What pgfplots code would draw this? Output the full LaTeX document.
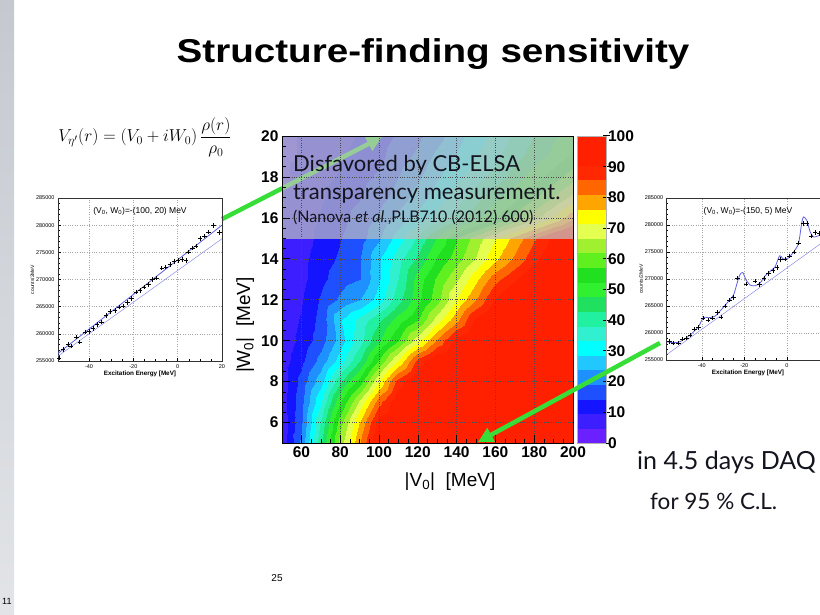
\documentclass[border=0pt]{standalone}
\usepackage{fontspec}
\setmainfont{Liberation Sans}
\newfontfamily\gill{Lato}
\usepackage{graphicx}
\usepackage{pgfplots}
\pgfplotsset{compat=1.18}
\usetikzlibrary{arrows.meta}

\definecolor{arrowgreen}{RGB}{55,222,55}
\definecolor{arrowpale}{RGB}{150,205,150}
\definecolor{fithi}{RGB}{95,95,225}
\definecolor{fitlo}{RGB}{140,140,235}
\definecolor{slidetext}{RGB}{20,20,30}

\newcommand{\ticklabelfont}{\fontsize{15.5}{16}\selectfont\bfseries}

\pgfplotsset{
  /pgf/number format/assume math mode=true,
  % ROOT-like palette, 20 bands of 5 %
  colormap={rootpal}{
    rgb255=(106,32,255) rgb255=(60,30,255) rgb255=(20,20,255) rgb255=(30,80,255)
    rgb255=(30,144,255) rgb255=(32,200,255) rgb255=(0,255,255) rgb255=(48,240,208)
    rgb255=(32,240,160) rgb255=(32,224,96) rgb255=(48,240,48) rgb255=(32,224,32)
    rgb255=(96,240,32) rgb255=(160,240,48) rgb255=(229,255,80) rgb255=(255,255,0)
    rgb255=(255,165,0) rgb255=(255,102,0) rgb255=(255,40,0) rgb255=(255,32,0)
    rgb255=(255,32,0)},
  % the same palette seen through the grey veil of the excluded band
  colormap={rootveil}{
    rgb255=(160,150,210) rgb255=(150,146,210) rgb255=(142,142,210) rgb255=(144,158,210)
    rgb255=(144,176,210) rgb255=(145,192,210) rgb255=(138,206,210) rgb255=(150,204,198)
    rgb255=(146,204,184) rgb255=(146,200,166) rgb255=(150,204,154) rgb255=(146,200,150)
    rgb255=(164,204,150) rgb255=(184,204,154) rgb255=(202,208,162) rgb255=(210,210,140)
    rgb255=(210,186,140) rgb255=(210,168,140) rgb255=(210,150,140) rgb255=(210,148,140)
    rgb255=(210,148,140)},
  spectrum/.style={
    scale only axis, anchor=south west,
    ymin=255000, ymax=285000,
    ytick={255000,260000,...,285000},
    scaled y ticks=false,
    yticklabel style={/pgf/number format/fixed, /pgf/number format/1000 sep={}},
    ticklabel style={font=\fontsize{5.5}{6}\selectfont},
    grid=major, major grid style={gray!70, dotted, line width=0.4pt},
    axis line style={line width=0.5pt, black!80},
    tick style={line width=0.4pt, black},
    major tick length=3pt, minor tick length=1.5pt,
    minor x tick num=3, minor y tick num=4,
    tick pos=left,
    xlabel style={font=\fontsize{6.3}{7}\selectfont\bfseries, yshift=4pt},
    ylabel style={font=\fontsize{5}{6}\selectfont, yshift=-5pt},
  },
}

\begin{document}
\begin{tikzpicture}[x=1pt,y=1pt]
\useasboundingbox (0,0) rectangle (820,614);
\clip (0,0) rectangle (820,614);
\fill[white] (0,0) rectangle (820,614);
\shade[top color={rgb,255:red,196;green,201;blue,208}, bottom color={rgb,255:red,226;green,228;blue,231}] (0,0) rectangle (14,614);

% sensitivity map over (|V0|, |W0|)
\begin{axis}[
  at={(282pt,171pt)}, anchor=south west,
  scale only axis, width=291pt, height=307pt,
  xmin=50, xmax=200, ymin=5, ymax=20,
  xtick={60,80,...,200}, ytick={6,8,...,20},
  minor x tick num=3, minor y tick num=3,
  tick pos=left, tick align=inside,
  major tick length=8pt, minor tick length=4pt,
  tick style={black, line width=0.6pt},
  grid=major, major grid style={black!70, dotted, line width=0.5pt},
  axis on top, clip=false,
  axis line style={line width=0.6pt},
  colormap name=rootpal, colormap access=piecewise constant,
  point meta min=0, point meta max=100,
  ticklabel style={font=\ticklabelfont},
  colorbar,
  colorbar style={
    at={(parent axis.north east)}, anchor=north west, xshift=-4.5pt,
    scale only axis, width=29pt, height=307pt,
    ytick={0,10,...,100}, tick pos=right,
    yticklabel style={font=\ticklabelfont, xshift=-5pt},
    major tick length=7pt, tick align=center,
    ytick style={black, line width=1pt},
    axis line style={draw=gray!60},
  },
]
% allowed region, |W0| <= 15 MeV
\addplot[surf, shader=interp, point meta=explicit, mesh/cols=16] coordinates {
(50,5)[6] (60,5)[20] (70,5)[42] (80,5)[64] (90,5)[81] (100,5)[97] (110,5)[99] (120,5)[99] (130,5)[99] (140,5)[99] (150,5)[99] (160,5)[99] (170,5)[99] (180,5)[99] (190,5)[99] (200,5)[99]
(50,6)[6] (60,6)[18] (70,6)[39] (80,6)[60] (90,6)[77] (100,6)[93] (110,6)[98] (120,6)[99] (130,6)[99] (140,6)[99] (150,6)[99] (160,6)[99] (170,6)[99] (180,6)[99] (190,6)[99] (200,6)[99]
(50,7)[7] (60,7)[17] (70,7)[33] (80,7)[52] (90,7)[68] (100,7)[84] (110,7)[95] (120,7)[99] (130,7)[99] (140,7)[99] (150,7)[99] (160,7)[99] (170,7)[99] (180,7)[99] (190,7)[99] (200,7)[99]
(50,8)[7] (60,8)[16] (70,8)[27] (80,8)[42] (90,8)[55] (100,8)[72] (110,8)[88] (120,8)[97] (130,8)[99] (140,8)[99] (150,8)[99] (160,8)[99] (170,8)[99] (180,8)[99] (190,8)[99] (200,8)[99]
(50,9)[7] (60,9)[13] (70,9)[21] (80,9)[31] (90,9)[43] (100,9)[58] (110,9)[72] (120,9)[88] (130,9)[96] (140,9)[99] (150,9)[99] (160,9)[99] (170,9)[99] (180,9)[99] (190,9)[99] (200,9)[99]
(50,10)[6] (60,10)[11] (70,10)[17] (80,10)[26] (90,10)[36] (100,10)[47] (110,10)[57] (120,10)[70] (130,10)[82] (140,10)[93] (150,10)[98] (160,10)[99] (170,10)[99] (180,10)[99] (190,10)[99] (200,10)[99]
(50,11)[6] (60,11)[10] (70,11)[16] (80,11)[28] (90,11)[35] (100,11)[42] (110,11)[50] (120,11)[57] (130,11)[69] (140,11)[80] (150,11)[92] (160,11)[98] (170,11)[99] (180,11)[99] (190,11)[99] (200,11)[99]
(50,12)[5] (60,12)[9] (70,12)[15] (80,12)[20] (90,12)[24] (100,12)[31] (110,12)[41] (120,12)[51] (130,12)[60] (140,12)[72] (150,12)[81] (160,12)[91] (170,12)[97] (180,12)[99] (190,12)[99] (200,12)[99]
(50,13)[5] (60,13)[8] (70,13)[13] (80,13)[17] (90,13)[19] (100,13)[28] (110,13)[38] (120,13)[50] (130,13)[58] (140,13)[66] (150,13)[75] (160,13)[84] (170,13)[90] (180,13)[96] (190,13)[99] (200,13)[99]
(50,14)[5] (60,14)[8] (70,14)[12] (80,14)[15] (90,14)[19] (100,14)[28] (110,14)[36] (120,14)[44] (130,14)[53] (140,14)[60] (150,14)[67] (160,14)[75] (170,14)[82] (180,14)[89] (190,14)[95] (200,14)[99]
(50,15)[5] (60,15)[7] (70,15)[11] (80,15)[14] (90,15)[17] (100,15)[23] (110,15)[31] (120,15)[39] (130,15)[48] (140,15)[57] (150,15)[64] (160,15)[71] (170,15)[78] (180,15)[85] (190,15)[92] (200,15)[97]
};
% band disfavored by the transparency measurement, |W0| >= 15 MeV
\addplot[surf, shader=interp, point meta=explicit, mesh/cols=16, colormap name=rootveil] coordinates {
(50,15)[5] (60,15)[7] (70,15)[11] (80,15)[14] (90,15)[17] (100,15)[23] (110,15)[31] (120,15)[39] (130,15)[48] (140,15)[57] (150,15)[64] (160,15)[71] (170,15)[78] (180,15)[85] (190,15)[92] (200,15)[97]
(50,16)[5] (60,16)[7] (70,16)[10] (80,16)[13] (90,16)[16] (100,16)[20] (110,16)[25] (120,16)[30] (130,16)[35] (140,16)[40] (150,16)[46] (160,16)[52] (170,16)[58] (180,16)[65] (190,16)[72] (200,16)[80]
(50,17)[5] (60,17)[6] (70,17)[9] (80,17)[12] (90,17)[14] (100,17)[17] (110,17)[21] (120,17)[26] (130,17)[31] (140,17)[36] (150,17)[41] (160,17)[46] (170,17)[51] (180,17)[56] (190,17)[62] (200,17)[68]
(50,18)[4] (60,18)[6] (70,18)[8] (80,18)[10] (90,18)[13] (100,18)[15] (110,18)[19] (120,18)[23] (130,18)[28] (140,18)[32] (150,18)[36] (160,18)[40] (170,18)[45] (180,18)[50] (190,18)[55] (200,18)[60]
(50,19)[4] (60,19)[5] (70,19)[7] (80,19)[9] (90,19)[11] (100,19)[13] (110,19)[17] (120,19)[20] (130,19)[25] (140,19)[29] (150,19)[33] (160,19)[37] (170,19)[41] (180,19)[45] (190,19)[49] (200,19)[53]
(50,20)[4] (60,20)[5] (70,20)[6] (80,20)[8] (90,20)[10] (100,20)[12] (110,20)[15] (120,20)[18] (130,20)[22] (140,20)[27] (150,20)[31] (160,20)[35] (170,20)[39] (180,20)[43] (190,20)[47] (200,20)[51]
};
% pointer from the (100, 20) MeV spectrum: full colour outside the map, veiled inside the band
\addplot[arrowgreen, line width=4.5pt] coordinates {(19.1,15.94) (50,17.44)};
\addplot[arrowpale, line width=4.5pt, -{Triangle[length=15pt,width=15pt]}] coordinates {(50,17.44) (101.5,19.95)};
\end{axis}

% axis titles of the map
\node[anchor=base, font=\fontsize{19}{21}\selectfont] at (450,128) {|V\textsubscript{0}|\ \ [MeV]};
\node[anchor=base, rotate=90, font=\fontsize{19}{21}\selectfont] at (250,289) {|W\textsubscript{0}|\ \ [MeV]};

% spectrum for (V0, W0) = -(100, 20) MeV
\begin{axis}[spectrum, at={(58pt,253pt)}, width=164pt, height=163pt,
  xmin=-54, xmax=20, xtick={-40,-20,0,20},
  xlabel={Excitation Energy [MeV]}, ylabel={counts/2MeV}]
\addplot[color=fitlo, line width=0.5pt] coordinates {(-54,255900) (20,277500)};
\addplot[color=fithi, line width=0.8pt] coordinates {(-54,256400) (20,280000)};
\addplot[only marks, mark=+, mark size=2.2pt, black, mark options={line width=0.45pt}] coordinates {
(-53.5,255600) (-51.7,257100) (-49.5,258000) (-48.0,257760) (-45.7,259420) (-44.2,258500)
(-41.9,260340) (-40.1,260460) (-38.1,260950) (-36.3,261690) (-34.4,262180) (-32.4,263400)
(-30.6,264140) (-28.3,264330) (-26.4,264940) (-24.6,265120) (-22.6,265740) (-20.8,266470)
(-18.8,267700) (-17.0,268000) (-15.2,268620) (-13.2,269050) (-11.4,270030) (-9.5,270280)
(-7.2,272120) (-5.4,272300) (-3.4,272730) (-1.6,273340) (0.1,273530) (1.9,273710)
(3.7,273500) (4.9,275060) (6.7,275800) (8.4,276170) (10.2,277520) (12.1,278010)
(13.9,278740) (16.2,279970) (18.8,278620)};
\node[font=\fontsize{8.5}{10}\selectfont] at (axis description cs:0.5,0.92) {(V\textsubscript{0}, W\textsubscript{0})=-(100, 20) MeV};
\end{axis}

% spectrum for (V0, W0) = -(150, 5) MeV
\begin{axis}[spectrum, at={(666.7pt,254pt)}, width=162.6pt, height=162pt,
  xmin=-56.5, xmax=20, xtick={-40,-20,0},
  xlabel={Excitation Energy [MeV]}, ylabel={counts/2MeV}]
\addplot[color=fitlo, line width=0.5pt] coordinates {(-56.5,256000) (20,277700)};
\addplot[color=fithi, line width=0.8pt, smooth, tension=0.4] coordinates {
(-56.5,258390) (-53.4,258200) (-50.2,258390) (-45.5,259620) (-41.6,261160) (-39.2,262890)
(-36.9,262820) (-33.7,263130) (-31.4,264060) (-28.3,265470) (-25.1,267010) (-23.2,269480)
(-22.0,270830) (-20.7,271200) (-19.1,269790) (-17.2,268860) (-14.9,268740) (-12.5,269290)
(-10.2,270590) (-7.8,271450) (-5.5,272250) (-3.4,274280) (-1.5,273670) (0.8,273910)
(3.2,275020) (5.5,276560) (7.1,280560) (7.9,281490) (9.4,280870) (11.0,278720)
(12.6,277790) (15.7,278100) (20,278700)};
\addplot[only marks, mark=+, mark size=2.2pt, black, mark options={line width=0.45pt}] coordinates {
(-55.2,258400) (-53.4,258100) (-51.0,258100) (-49.0,258900) (-47.1,259100) (-45.5,259600)
(-43.5,260700) (-41.6,261000) (-39.5,262800) (-37.2,262400) (-35.0,262800) (-32.6,263800)
(-30.9,263000) (-29.0,265000) (-27.0,266100) (-25.1,266600) (-23.2,270200) (-19.1,269100)
(-14.9,269600) (-12.9,269000) (-10.7,270100) (-8.6,271000) (-6.6,271600) (-4.7,272100)
(-2.9,273600) (-0.8,273700) (1.3,274300) (3.5,275000) (5.5,276700) (7.5,280300)
(9.4,280300) (11.3,278000) (13.4,278600) (15.4,278400)};
\node[font=\fontsize{8.5}{10}\selectfont] at (axis description cs:0.5,0.92) {(V\textsubscript{0}, W\textsubscript{0})=-(150, 5) MeV};
\end{axis}

% pointer to the (150, 5) MeV spectrum
\draw[arrowgreen, line width=4.5pt, -{Triangle[length=15pt,width=15pt]}] (660,271) -- (478,172);

% slide title
\node[anchor=base, font=\fontsize{33}{36}\selectfont\bfseries] at (433,551) {\scalebox{1.17}[1]{Structure-finding sensitivity}};

% optical potential
\node at (145,477) {\fontsize{17.28}{20}\selectfont $\displaystyle V_{\eta'}(r) = (V_0 + iW_0)\,\frac{\rho(r)}{\rho_0}$};

% text on the excluded band
\node[anchor=base west, font=\gill\fontsize{22}{24}\selectfont, text=slidetext, inner sep=0pt] at (293,442) {Disfavored by CB-ELSA};
\node[anchor=base west, font=\gill\fontsize{22}{24}\selectfont, text=slidetext, inner sep=0pt] at (293,414) {transparency measurement.};
\node[anchor=base west, font=\gill\fontsize{16}{18}\selectfont, text=slidetext, inner sep=0pt] at (293,391) {(Nanova \textit{et al.},PLB710 (2012) 600)};

% statistics
\node[anchor=base west, font=\gill\fontsize{25}{28}\selectfont, text=slidetext, inner sep=0pt] at (637,144) {in 4.5 days DAQ};
\node[anchor=base west, font=\gill\fontsize{22.5}{26}\selectfont, text=slidetext, inner sep=0pt] at (650,105) {for 95 \% C.L.};

% page numbers
\node[anchor=base, font=\fontsize{10}{12}\selectfont] at (277,33) {25};
\node[anchor=base west, font=\fontsize{9}{11}\selectfont, inner sep=0pt] at (2,10) {11};
\end{tikzpicture}
\end{document}
